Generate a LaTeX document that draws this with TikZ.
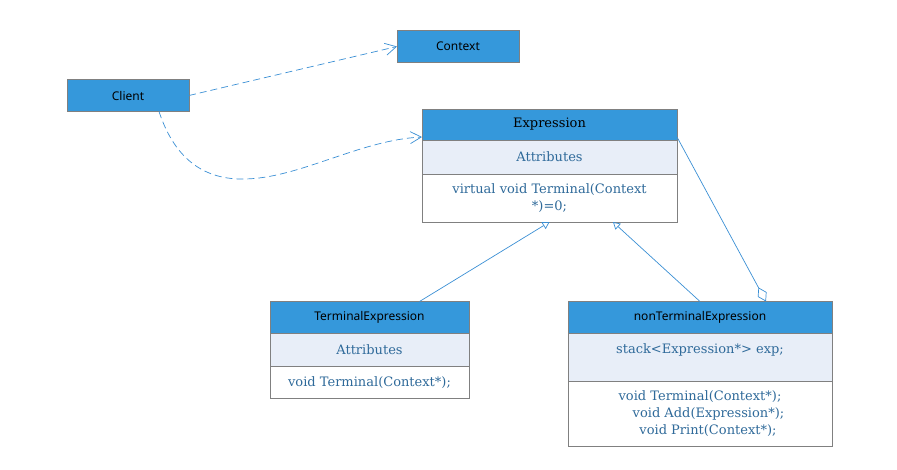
\documentclass[tikz,border=0pt]{standalone}
\usepackage{fontspec}
\setmainfont{DejaVu Serif}
\setsansfont{Noto Sans}
\usetikzlibrary{positioning}
\usepgflibrary{arrows.meta}
\usepackage{xcolor}
\definecolor{headblue}{HTML}{3598DB}
\definecolor{attrfill}{HTML}{E8EEF8}
\definecolor{boxline}{HTML}{808080}
\definecolor{linkblue}{HTML}{3A8FD4}
\definecolor{textblue}{HTML}{2F6A9A}

\tikzset{
  compart/.style={draw=boxline, outer sep=0pt, inner sep=0pt, align=center},
  headsans/.style={compart, fill=headblue, font=\sffamily\fontsize{12}{14}\selectfont},
  headserif/.style={compart, fill=headblue, font=\rmfamily\fontsize{13}{17}\selectfont},
  attrs/.style={compart, fill=attrfill, text=textblue, font=\fontsize{13}{17}\selectfont},
  ops/.style={compart, fill=white, text=textblue, font=\fontsize{13}{17}\selectfont},
  uses/.style={draw=linkblue, line width=0.7pt, dash pattern=on 7pt off 4pt, -{Straight Barb[length=11pt, width=12pt]}},
  inherit/.style={draw=linkblue, line width=0.7pt, -{Triangle[open, length=7pt, width=8pt]}},
  aggregate/.style={draw=linkblue, line width=0.7pt, {Diamond[open, length=16pt, width=10pt]}-},
}

\begin{document}
\begin{tikzpicture}[x=1pt, y=-1pt]
    \useasboundingbox (0, 0) rectangle (897, 469);
    % plain classes
    \node[headsans, minimum width=122pt, minimum height=32pt] (Client) at (128, 95.5) {Client};
    \node[headsans, minimum width=122pt, minimum height=32pt] (Context) at (458, 46.5) {Context};
    % Expression
    \node[headserif, minimum width=255pt, minimum height=31pt] (exprHead) at (549.5, 124.5) {Expression};
    \node[attrs, minimum width=255pt, minimum height=34pt, below=0pt of exprHead] (exprAttr) {Attributes};
    \node[ops, minimum width=255pt, minimum height=48pt, below=0pt of exprAttr] (exprOps) {virtual void Terminal(Context\\*)=0;};
    % TerminalExpression
    \node[headsans, minimum width=199pt, minimum height=32pt] (termHead) at (369.5, 317.5) {TerminalExpression};
    \node[attrs, minimum width=199pt, minimum height=33pt, below=0pt of termHead] (termAttr) {Attributes};
    \node[ops, minimum width=199pt, minimum height=32pt, below=0pt of termAttr] (termOps) {void Terminal(Context*);};
    % nonTerminalExpression
    \node[headsans, minimum width=264pt, minimum height=32pt] (ntHead) at (700, 317.5) {nonTerminalExpression};
    \node[attrs, minimum width=264pt, minimum height=48pt, below=0pt of ntHead] (ntAttr) {stack<Expression*> exp;\\\mbox{}};
    \node[ops, minimum width=264pt, minimum height=65pt, below=0pt of ntAttr] (ntOps) {void Terminal(Context*);\\\hspace*{17pt}void Add(Expression*);\\\hspace*{16pt}void Print(Context*);};
    % links
    \draw[uses] (Client.east) -- (Context.west);
    \draw[uses] ([xshift=31pt]Client.south) .. controls (175, 160) and (205, 180) .. (245, 179) .. controls (300, 178) and (360, 140) .. ([yshift=3pt]exprHead.south west);
    \draw[inherit] ([xshift=50pt]termHead.north) -- (exprOps.south);
    \draw[inherit] (ntHead.north) -- ([xshift=63.5pt]exprOps.south);
    \draw[aggregate] ([xshift=66pt]ntHead.north) -- ([yshift=3pt]exprHead.south east);
  \end{tikzpicture}
\end{document}
